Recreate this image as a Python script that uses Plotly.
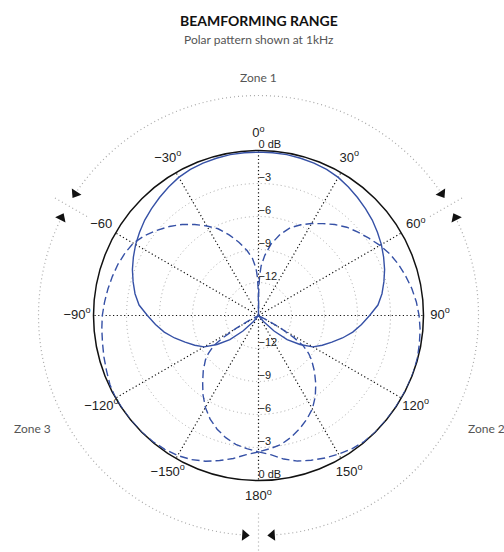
import numpy as np
import plotly.graph_objects as go

TITLE = "BEAMFORMING RANGE"
SUBTITLE = "Polar pattern shown at 1kHz"
ZONE_LABELS = ["Zone 1", "Zone 2", "Zone 3"]

# ---- data (angle in degrees, clockwise from front; level in dB) ----
solid_theta = list(range(-180, 181, 5))
solid_db = [-15, -15, -15, -15, -15, -15, -15, -15, -14.3, -13.0, -11.6, -10.4,
            -9.3, -8.6, -7.9, -7.1, -6.3, -5.6, -4.9, -4.1, -3.6, -3.2, -2.8,
            -2.45, -2.1, -1.8, -1.5, -1.25, -1.0, -0.75, -0.5, -0.35, -0.25, -0.2,
            -0.15, -0.15, -0.15, -0.15, -0.15, -0.2, -0.25, -0.35, -0.5, -0.75,
            -1.0, -1.25, -1.5, -1.8, -2.1, -2.45, -2.8, -3.2, -3.6, -4.1, -4.9,
            -5.6, -6.3, -7.1, -7.9, -8.6, -9.3, -10.4, -11.6, -13.0, -14.3, -15,
            -15, -15, -15, -15, -15, -15, -15]

zone3_theta = [-180, -175, -170, -165, -160, -155, -150, -145, -140, -135, -130,
               -125, -120, -115, -110, -105, -100, -95, -90, -85, -80, -75, -70,
               -65, -60, -55, -50, -45, -40, -35, -30, -25, -20, -15, -10, -6, -3,
               -1.5, -0.5, 0, 30, 60, 90, 116, 118, 120, 122, 124, 127, 130, 135,
               140, 145, 150, 155, 160, 165, 170, 175, 180]
zone3_db = [-2.6, -2.3, -1.8, -1.35, -0.9, -0.55, -0.3, -0.15, -0.05, 0, 0,
            0, 0, -0.1, -0.3, -0.45, -0.6, -0.7, -0.8, -0.95, -1.1, -1.25, -1.4,
            -1.6, -1.85, -2.35, -2.95, -3.55, -4.2, -4.9, -5.6, -6.3, -7.2, -8.1,
            -9.0, -9.8, -10.7, -11.6, -12.8, -15, -15, -15, -15, -15, -14, -12.6,
            -11.2, -10.1, -9.3, -8.7, -7.8, -6.9, -6.0, -5.2, -4.6, -4.05, -3.55,
            -3.1, -2.85, -2.6]

zone2_theta = [180, 175, 170, 165, 160, 155, 150, 145, 140, 135, 130, 125, 120,
               115, 110, 105, 100, 95, 90, 85, 80, 75, 70, 65, 60, 55, 50, 45, 40,
               35, 30, 25, 20, 15, 10, 6, 3, 1.5, 0.5, 0, -30, -60, -90, -116,
               -118, -120, -122, -124, -127, -130, -135, -140, -145, -150, -155,
               -160, -165, -170, -175, -180]
zone2_db = [-2.6, -2.3, -1.75, -1.3, -1.0, -0.7, -0.45, -0.2, -0.05, 0, 0, 0, 0,
            0, 0, -0.05, -0.15, -0.25, -0.4, -0.6, -0.85, -1.15, -1.45, -1.8,
            -2.25, -2.75, -3.2, -3.65, -4.2, -4.8, -5.35, -5.9, -6.5, -7.35, -8.4,
            -9.5, -10.5, -11.5, -12.8, -15, -15, -15, -15, -15, -14, -12.6, -11.2,
            -10.1, -9.3, -8.7, -7.9, -7.1, -6.2, -5.35, -4.6, -4.0, -3.5, -3.1,
            -2.85, -2.6]

# ---- axis labels ----
angle_ticks = [0, 30, 60, 90, 120, 150, 180, -150, -120, -90, -60, -30]
angle_text = ["0<sup>o</sup>", "30<sup>o</sup>", "60<sup>o</sup>", "90<sup>o</sup>",
              "120<sup>o</sup>", "150<sup>o</sup>", "180<sup>o</sup>",
              "\u2212150<sup>o</sup>", "\u2212120<sup>o</sup>", "\u221290<sup>o</sup>",
              "\u221260", "\u221230<sup>o</sup>"]
ring_vals = [0, -3, -6, -9, -12]
ring_text = ["0 dB", "\u22123", "\u22126", "\u22129", "\u221212"]
zone_bounds = [60, 180, -60]

BLUE = "#3651a6"
GRID = "#a8a8a8"
W, H = 504, 552
CX, CY, R = 258.5, 315.5, 165.0        # main plot centre / radius (px)
R2 = 236.5                              # overlay radius (px)

fig = go.Figure()

fig.add_trace(go.Scatterpolar(r=solid_db, theta=solid_theta, mode="lines",
                              line=dict(color=BLUE, width=1.4), subplot="polar",
                              hoverinfo="skip", showlegend=False))
fig.add_trace(go.Scatterpolar(r=zone2_db, theta=zone2_theta, mode="lines",
                              line=dict(color=BLUE, width=1.4, dash="8px,4px"),
                              subplot="polar", hoverinfo="skip", showlegend=False))
fig.add_trace(go.Scatterpolar(r=zone3_db, theta=zone3_theta, mode="lines",
                              line=dict(color=BLUE, width=1.4, dash="8px,4px"),
                              subplot="polar", hoverinfo="skip", showlegend=False))

# radial level labels along 0 and 180 degrees
fig.add_trace(go.Scatterpolar(r=ring_vals + ring_vals, theta=[0] * 5 + [180] * 5,
                              mode="text", text=ring_text + ring_text,
                              textposition="top right", cliponaxis=False,
                              textfont=dict(family="Liberation Sans", size=11, color="#222"),
                              subplot="polar", hoverinfo="skip", showlegend=False))

# ---- overlay (pixel-radius) polar for zone decorations ----
RZ = 220
gap = 3.6
arcs = [(-60 + gap, 60 - gap), (60 + gap, 180 - gap), (-180 + gap, -60 - gap)]
for a0, a1 in arcs:
    th = np.arange(a0, a1 + 0.01, 1.0)
    fig.add_trace(go.Scatterpolar(r=[RZ] * len(th), theta=th, mode="lines",
                                  line=dict(color=GRID, width=1.2, dash="1px,3px"),
                                  subplot="polar2", cliponaxis=False,
                                  hoverinfo="skip", showlegend=False))
for b in zone_bounds:
    fig.add_trace(go.Scatterpolar(r=[198, 256], theta=[b, b], mode="lines",
                                  line=dict(color=GRID, width=1.2, dash="1px,3px"),
                                  subplot="polar2", cliponaxis=False,
                                  hoverinfo="skip", showlegend=False))
    fig.add_trace(go.Scatterpolar(r=[RZ, RZ], theta=[b - gap, b + gap], mode="markers",
                                  marker=dict(symbol="triangle-up", size=10, color="#111",
                                              angle=[b - gap + 90, b + gap - 90]),
                                  subplot="polar2", cliponaxis=False,
                                  hoverinfo="skip", showlegend=False))

fig.add_trace(go.Scatterpolar(r=[181.5] * len(angle_ticks), theta=angle_ticks,
                              mode="text", text=angle_text, textposition="middle center",
                              textfont=dict(family="Liberation Sans", size=13, color="#222"),
                              subplot="polar2", cliponaxis=False,
                              hoverinfo="skip", showlegend=False))

ann_common = dict(xref="paper", yref="paper", showarrow=False,
                  xanchor="center", yanchor="middle")
fig.update_layout(
    width=W, height=H, margin=dict(l=0, r=0, t=0, b=0),
    paper_bgcolor="white", plot_bgcolor="white", showlegend=False,
    polar=dict(
        domain=dict(x=[(CX - R) / W, (CX + R) / W],
                    y=[(H - CY - R) / H, (H - CY + R) / H]),
        bgcolor="rgba(0,0,0,0)",
        radialaxis=dict(range=[-15, 0], tickvals=[-12, -9, -6, -3], showticklabels=False,
                        ticks="", showline=False, showgrid=True, gridcolor=GRID,
                        griddash="1px,3px", gridwidth=1, layer="below traces"),
        angularaxis=dict(rotation=90, direction="clockwise",
                         tickvals=[0, 30, 60, 90, 120, 150, 180, 210, 240, 270, 300, 330],
                         showticklabels=False, ticks="", showline=True, linecolor="#111",
                         linewidth=1.5, showgrid=True, gridcolor="#111", gridwidth=1.2,
                         griddash="1.2px,2.5px", layer="below traces"),
    ),
    polar2=dict(
        domain=dict(x=[(CX - R2) / W, (CX + R2) / W],
                    y=[0, (H - CY + R2) / H]),
        bgcolor="rgba(0,0,0,0)",
        radialaxis=dict(range=[0, R2], visible=False),
        angularaxis=dict(rotation=90, direction="clockwise", visible=False),
    ),
    annotations=[
        dict(text="<b>" + TITLE + "</b>", x=CX / W, y=(H - 20) / H,
             font=dict(family="Lato", size=14, color="#111"), **ann_common),
        dict(text=SUBTITLE, x=CX / W, y=(H - 40) / H,
             font=dict(family="Lato", size=12, color="#555"), **ann_common),
        dict(text=ZONE_LABELS[0], x=CX / W, y=(H - 78) / H,
             font=dict(family="Lato", size=12, color="#555"), **ann_common),
        dict(text=ZONE_LABELS[1], x=486 / W, y=(H - 428) / H,
             font=dict(family="Lato", size=12, color="#555"), **ann_common),
        dict(text=ZONE_LABELS[2], x=32 / W, y=(H - 428) / H,
             font=dict(family="Lato", size=12, color="#555"), **ann_common),
    ],
)

fig.write_html("out.html", config={"displayModeBar": False, "staticPlot": True},
               post_script="document.body.style.margin='0';document.body.style.padding='0';")
